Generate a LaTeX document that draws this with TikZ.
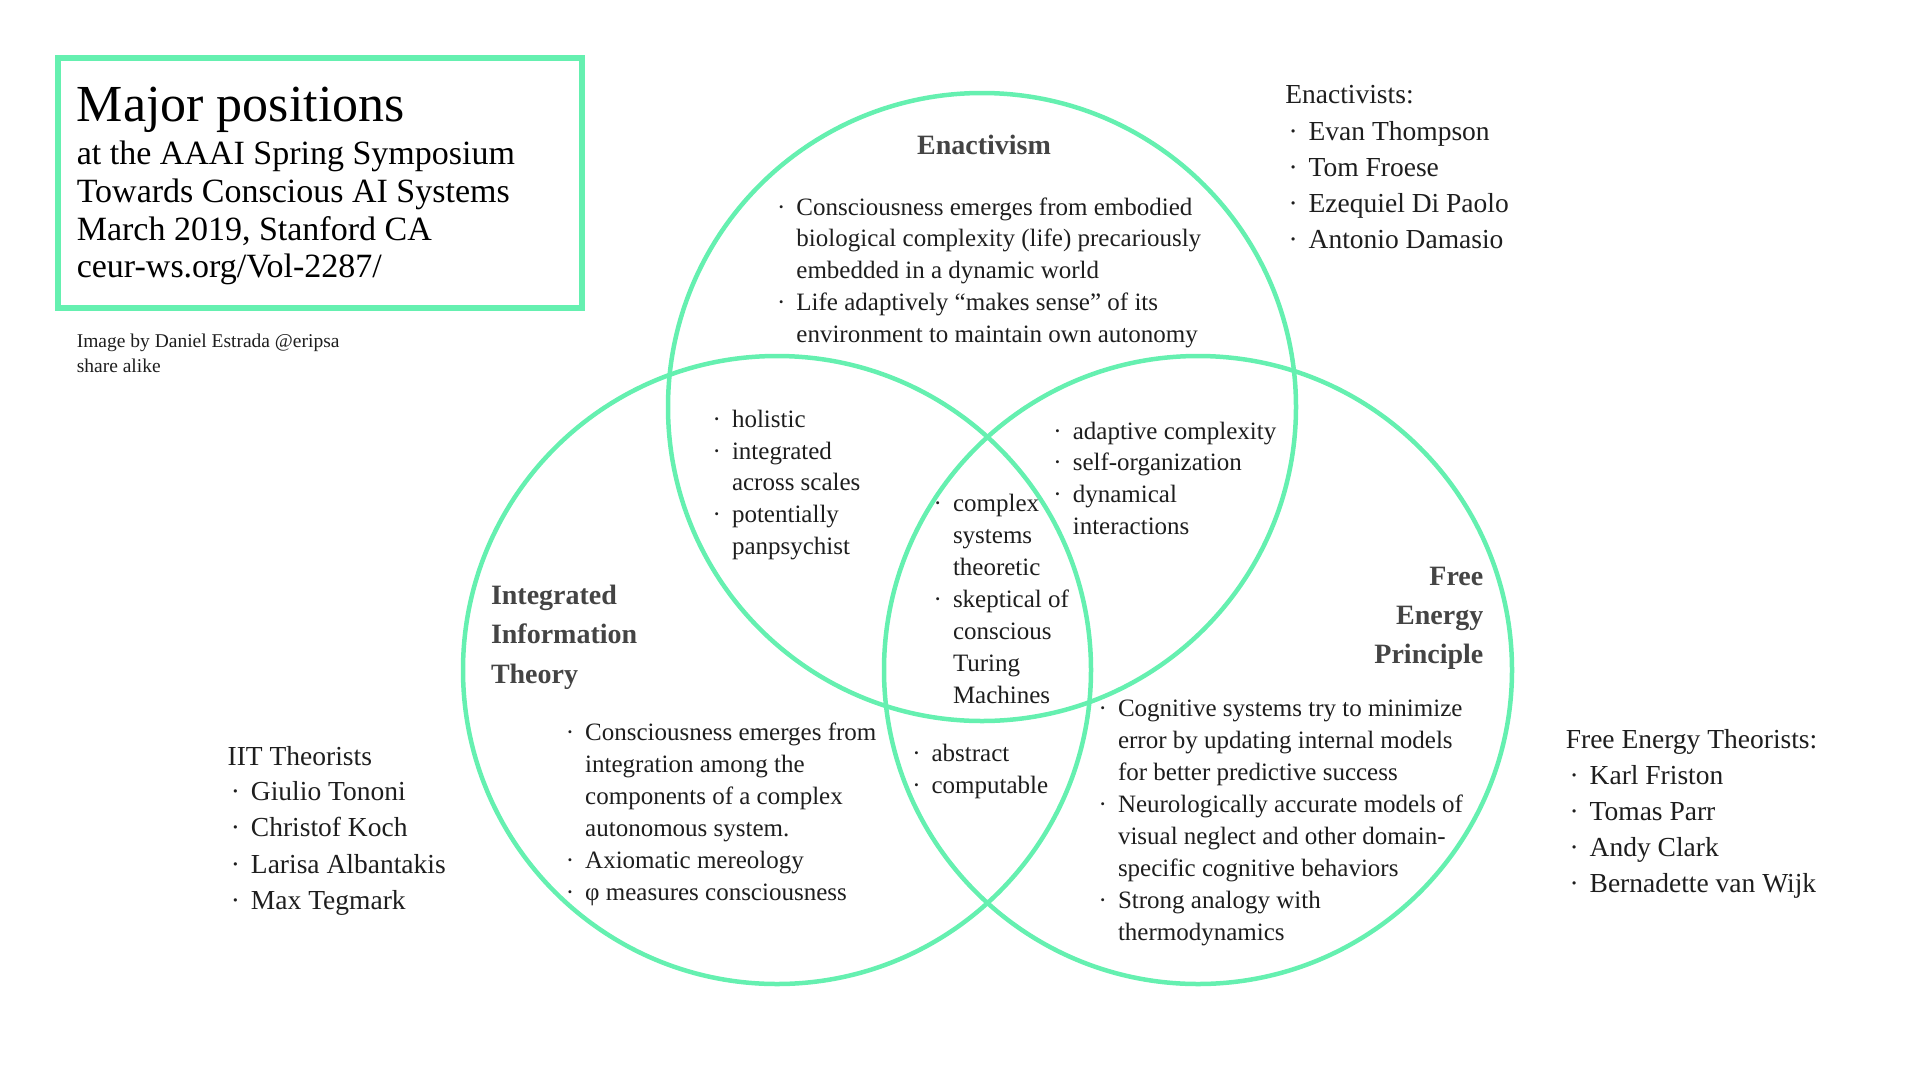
\documentclass[tikz,border=0pt]{standalone}
\usepackage{fontspec}
\setmainfont{Liberation Serif}
\definecolor{venn}{HTML}{65F0B0}
\definecolor{ttl}{HTML}{444444}
\definecolor{ink}{HTML}{1E1E1E}
\newcommand\bul{\llap{·\hspace{11pt}}}
\begin{document}
\begin{tikzpicture}[x=1pt,y=-1pt,
  ring/.style={draw=venn,line width=4.5pt},
  tx/.style={anchor=base west,inner sep=0pt,outer sep=0pt,text=ink},
  big/.style={tx,text=black,font=\fontsize{52}{60}\selectfont},
  sub/.style={tx,text=black,font=\fontsize{34}{40}\selectfont},
  credit/.style={tx,font=\fontsize{19.5}{24}\selectfont},
  body/.style={tx,font=\fontsize{25}{30}\selectfont},
  person/.style={tx,font=\fontsize{27.5}{33}\selectfont},
  head/.style={tx,text=ttl,font=\fontsize{28}{33}\selectfont\bfseries},
]
\useasboundingbox (0,0) rectangle (1917,1069);

% title box
\node (box) [draw=venn,line width=5.5pt,minimum width=524pt,minimum height=250pt,inner sep=0pt] at (320,183) {};
\node[big] (t1) at (76.8,121.7) {Major positions};
\node[sub] (t2) at (76.8,164.3) {at the AAAI Spring Symposium};
\node[sub] (t3) at (76.8,202.3) {Towards Conscious AI Systems};
\node[sub] (t4) at (76.8,240) {March 2019, Stanford CA};
\node[sub] (t5) at (76.8,277.7) {ceur-ws.org/Vol-2287/};
\node[credit] (c1) at (76.8,347.3) {Image by Daniel Estrada @eripsa};
\node[credit] (c2) at (76.8,372.7) {share alike};

% circles
\draw[ring] (982,407) circle[radius=314pt];
\draw[ring] (777,670) circle[radius=314pt];
\draw[ring] (1198,670) circle[radius=314pt];

% Enactivism
\node[head,anchor=base] (enh) at (984,154.3) {Enactivism};
\node[body] (e1) at (796.4,215) {\bul Consciousness emerges from embodied};
\node[body] (e2) at (796.4,246.9) {biological complexity (life) precariously};
\node[body] (e3) at (796.4,278.8) {embedded in a dynamic world};
\node[body] (e4) at (796.4,310.7) {\bul Life adaptively “makes sense” of its};
\node[body] (e5) at (796.4,342.6) {environment to maintain own autonomy};

% Enactivists
\node[person] (ea) at (1285.3,103.3) {Enactivists:};
\node[person] (ea1) at (1308.7,140) {\bul Evan Thompson};
\node[person] (ea2) at (1308.7,176.2) {\bul Tom Froese};
\node[person] (ea3) at (1308.7,212.4) {\bul Ezequiel Di Paolo};
\node[person] (ea4) at (1308.7,248.6) {\bul Antonio Damasio};

% Enactivism ∩ IIT
\node[body] (h1) at (732,427.3) {\bul holistic};
\node[body] (h2) at (732,459) {\bul integrated};
\node[body] (h3) at (732,490.7) {across scales};
\node[body] (h4) at (732,522.7) {\bul potentially};
\node[body] (h5) at (732,554.3) {panpsychist};

% IIT heading
\node[head] (ih1) at (491,604.3) {Integrated};
\node[head] (ih2) at (491,643.8) {Information};
\node[head] (ih3) at (491,683.3) {Theory};

% centre
\node[body] (m1) at (953,511.7) {\bul complex};
\node[body] (m2) at (953,543.6) {systems};
\node[body] (m3) at (953,575.5) {theoretic};
\node[body] (m4) at (953,607.4) {\bul skeptical of};
\node[body] (m5) at (953,639.3) {conscious};
\node[body] (m6) at (953,671.2) {Turing};
\node[body] (m7) at (953,703.1) {Machines};

% Enactivism ∩ FEP
\node[body] (a1) at (1072.8,439) {\bul adaptive complexity};
\node[body] (a2) at (1072.8,470.9) {\bul self-organization};
\node[body] (a3) at (1072.8,502.8) {\bul dynamical};
\node[body] (a4) at (1072.8,534.7) {interactions};

% FEP heading
\node[head,anchor=base east] (fh1) at (1483.3,585) {Free};
\node[head,anchor=base east] (fh2) at (1483.3,624.2) {Energy};
\node[head,anchor=base east] (fh3) at (1483.3,663.4) {Principle};

% FEP body
\node[body] (f1) at (1118,716.7) {\bul Cognitive systems try to minimize};
\node[body] (f2) at (1118,748.6) {error by updating internal models};
\node[body] (f3) at (1118,780.5) {for better predictive success};
\node[body] (f4) at (1118,812.4) {\bul Neurologically accurate models of};
\node[body] (f5) at (1118,844.3) {visual neglect and other domain-};
\node[body] (f6) at (1118,876.2) {specific cognitive behaviors};
\node[body] (f7) at (1118,908.1) {\bul Strong analogy with};
\node[body] (f8) at (1118,940) {thermodynamics};

% IIT ∩ FEP
\node[body] (b1) at (931.6,761.7) {\bul abstract};
\node[body] (b2) at (931.6,793.3) {\bul computable};

% IIT body
\node[body] (i1) at (585.2,740) {\bul Consciousness emerges from};
\node[body] (i2) at (585.2,772.1) {integration among the};
\node[body] (i3) at (585.2,804.2) {components of a complex};
\node[body] (i4) at (585.2,836.3) {autonomous system.};
\node[body] (i5) at (585.2,868.4) {\bul Axiomatic mereology};
\node[body] (i6) at (585.2,900.5) {\bul φ measures consciousness};

% FEP theorists
\node[person] (fa) at (1565.8,748.3) {Free Energy Theorists:};
\node[person] (fa1) at (1589.7,784.2) {\bul Karl Friston};
\node[person] (fa2) at (1589.7,820.2) {\bul Tomas Parr};
\node[person] (fa3) at (1589.7,856.2) {\bul Andy Clark};
\node[person] (fa4) at (1589.7,892.2) {\bul Bernadette van Wijk};

% IIT theorists
\node[person] (ia) at (227.6,765) {IIT Theorists};
\node[person] (ia1) at (251,800.8) {\bul Giulio Tononi};
\node[person] (ia2) at (251,836.9) {\bul Christof Koch};
\node[person] (ia3) at (251,873) {\bul Larisa Albantakis};
\node[person] (ia4) at (251,909.1) {\bul Max Tegmark};
\end{tikzpicture}
\end{document}
